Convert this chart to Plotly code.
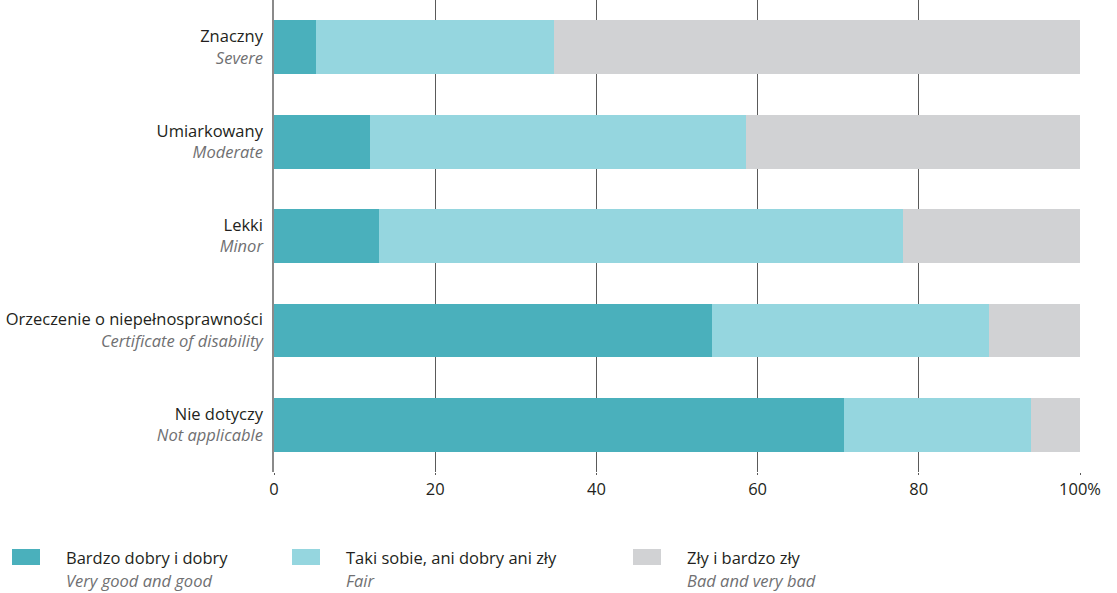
import plotly.graph_objects as go

categories_pl = ["Znaczny", "Umiarkowany", "Lekki", "Orzeczenie o niepełnosprawności", "Nie dotyczy"]
categories_en = ["Severe", "Moderate", "Minor", "Certificate of disability", "Not applicable"]
good = [5.2, 11.9, 13.0, 54.3, 70.7]
fair = [29.5, 46.7, 65.0, 34.4, 23.2]
bad = [65.3, 41.4, 22.0, 11.3, 6.1]
series_pl = ["Bardzo dobry i dobry", "Taki sobie, ani dobry ani zły", "Zły i bardzo zły"]
series_en = ["Very good and good", "Fair", "Bad and very bad"]
colors = ["#4AB0BC", "#95D6DF", "#D1D2D4"]
tick_vals = [0, 20, 40, 60, 80, 100]
tick_text = ["0", "20", "40", "60", "80", "100%"]

FONT = "Open Sans"
DARK = "#231f20"
GREY = "#707072"

W, H = 1117, 593
L, R, T, B = 274, 37, 0, 121
PW, PH = W - L - R, H - T - B

def px_x(px):
    return (px - L) / PW

def px_y(py):
    return (H - B - py) / PH

ylabels = [f"{p}<br><i><span style='color:{GREY}'>{e}</span></i>" for p, e in zip(categories_pl, categories_en)]

fig = go.Figure()
for vals, name, col in zip([good, fair, bad], series_pl, colors):
    fig.add_trace(go.Bar(y=ylabels, x=vals, orientation="h", name=name,
                         marker=dict(color=col, line=dict(width=0)), width=0.57,
                         showlegend=False))

fig.update_layout(
    barmode="stack",
    width=W, height=H,
    margin=dict(l=L, r=R, t=T, b=B),
    plot_bgcolor="white", paper_bgcolor="white",
    font=dict(family=FONT, size=16.5, color=DARK),
    xaxis=dict(range=[0, 100], tickvals=tick_vals, ticktext=tick_text,
               showgrid=True, gridcolor="#5a5a5a", gridwidth=1,
               zeroline=False, showline=False, ticks="outside", ticklen=2,
               tickcolor="#5a5a5a", tickfont=dict(size=16.5, color=DARK),
               automargin=False),
    yaxis=dict(autorange="reversed", showgrid=False, ticks="",
               showline=True, linecolor="#8a8a8a", linewidth=1.5,
               ticklabelstandoff=6, tickfont=dict(size=16.5, color=DARK),
               automargin=False),
)

# Custom legend
sw_x = [12, 292, 633]
for i in range(3):
    fig.add_shape(type="rect", xref="paper", yref="paper",
                  x0=px_x(sw_x[i]), x1=px_x(sw_x[i] + 28),
                  y0=px_y(565), y1=px_y(549),
                  fillcolor=colors[i], line=dict(width=0))
    fig.add_annotation(xref="paper", yref="paper", x=px_x(sw_x[i] + 52),
                       y=px_y(557), xanchor="left", yanchor="middle",
                       text=series_pl[i], showarrow=False,
                       font=dict(family=FONT, size=16.5, color=DARK))
    fig.add_annotation(xref="paper", yref="paper", x=px_x(sw_x[i] + 52),
                       y=px_y(580), xanchor="left", yanchor="middle",
                       text=f"<i>{series_en[i]}</i>", showarrow=False,
                       font=dict(family=FONT, size=16.5, color=GREY))

fig.write_html("out.html", config={"displayModeBar": False},
               post_script="document.body.style.margin='0';")
